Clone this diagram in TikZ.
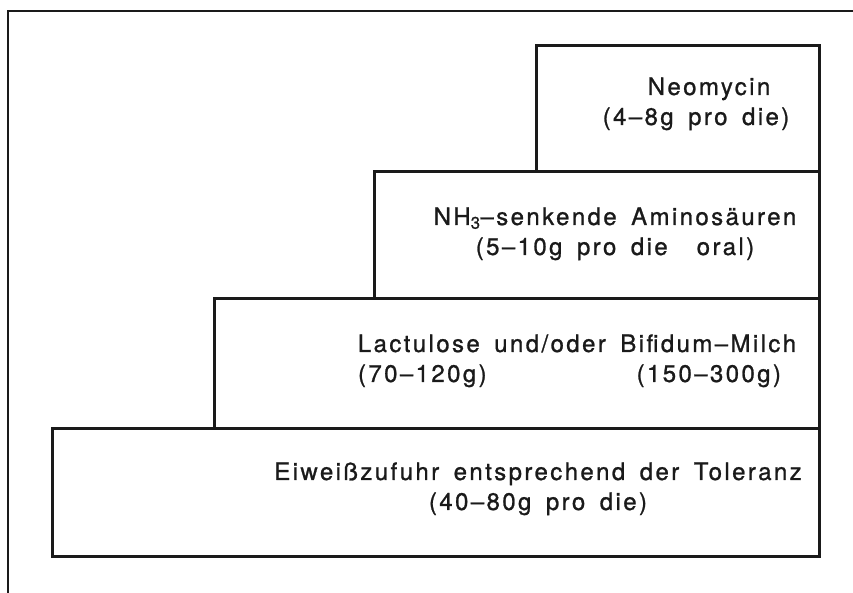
\documentclass[tikz,border=0pt]{standalone}
\usepackage{fontspec}
\setmainfont{TeX Gyre Heros}[LetterSpace=10,WordSpace=1.6,FakeBold=1]
\usetikzlibrary{positioning}
\definecolor{Ink}{HTML}{1A1A1A}

\tikzset{
  stufe/.style={draw=Ink,line width=2.6bp,anchor=south west,inner sep=0pt},
  stufentext/.style={text=Ink,align=center,anchor=base,inner sep=0pt,
    font=\fontsize{24bp}{30bp}\selectfont},
}

\begin{document}
\begin{tikzpicture}[x=1bp,y=1bp]
  \useasboundingbox (0,0) rectangle (853,593);
  % Rahmen
  \draw[Ink,line width=1.6bp] (853,582) -- (8,582) -- (8,0);

  % Stufen von unten nach oben
  \node[stufe,minimum width=767bp,minimum height=128bp] (eiweiss) at (51,35) {};
  \node[stufe,minimum width=605bp,minimum height=130bp] (lactulose) at (213,163) {};
  \node[stufe,minimum width=445bp,minimum height=127bp] (amino) at (373,293) {};
  \node[stufe,minimum width=283bp,minimum height=126bp] (neomycin) at (535,420) {};

  \node[stufentext] (eiweissText) at (538,83)
    {Eiweißzufuhr entsprechend der Toleranz\\(40–80g pro die)};
  \node[stufentext] (lactuloseText) at (577,211)
    {Lactulose und/oder Bifidum–Milch\\(70–120g)\hspace{150bp}(150–300g)\hspace*{15bp}};
  \node[stufentext] (aminoText) at (615,338)
    {NH\textsubscript{3}–senkende Aminosäuren\\(5–10g pro die~ oral)};
  \node[stufentext] (neomycinText) at (696,468)
    {\hspace*{26bp}Neomycin\\(4–8g pro die)};
\end{tikzpicture}
\end{document}
